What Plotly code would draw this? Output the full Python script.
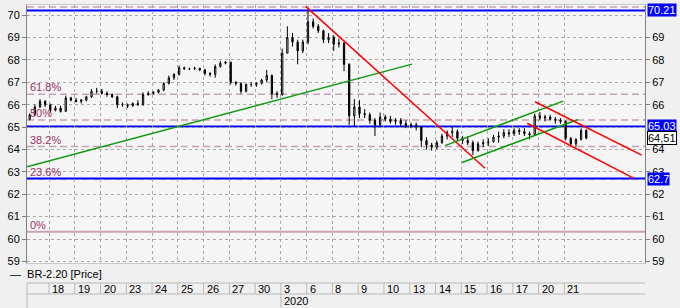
import plotly.graph_objects as go

# ---------------- data ----------------
day_labels = ["18", "19", "20", "23", "24", "25", "26", "27", "30", "3", "6",
              "8", "9", "10", "13", "14", "15", "16", "17", "20", "21"]
year_label = "2020"
year_day_index = 9          # first trading day of 2020 ("3")

opens = [65.35, 65.55, 65.9, 66.15, 66.0, 65.75, 65.85, 65.7, 66.3, 66.2,
         66.15, 66.2, 66.35, 66.6, 66.6, 66.5, 66.45, 66.35, 66.0, 66.0,
         65.95, 66.05, 66.0, 66.45, 66.5, 66.55, 66.65, 66.95, 67.2, 67.35,
         67.65, 67.6, 67.6, 67.62, 67.55, 67.4, 67.35, 67.7, 67.85, 67.9,
         67.0, 66.95, 66.6, 66.9, 66.9, 66.95, 67.1, 67.3, 66.5, 66.45,
         68.3, 69.0, 68.8, 68.4, 68.8, 69.7, 69.5, 69.3, 68.9, 69.0,
         68.7, 68.75, 67.8, 65.5, 65.9, 65.6, 65.55, 65.3, 65.1, 65.45,
         65.35, 65.25, 65.3, 65.15, 65.05, 65.1, 65.0, 64.4, 64.2, 64.1,
         64.3, 64.6, 64.75, 64.8, 64.5, 64.4, 64.3, 63.95, 64.25, 64.3,
         64.35, 64.55, 64.6, 64.75, 64.7, 64.85, 64.8, 64.7, 64.65, 65.5,
         65.4, 65.45, 65.35, 65.3, 65.25, 64.5, 64.25, 64.45, 64.85]
highs = [65.6, 66.0, 66.25, 66.2, 66.05, 65.95, 65.95, 66.4, 66.35, 66.3,
         66.25, 66.4, 66.7, 66.75, 66.7, 66.6, 66.5, 66.4, 66.1, 66.05,
         66.1, 66.2, 66.55, 66.6, 66.6, 66.7, 67.0, 67.3, 67.4, 67.75,
         67.7, 67.65, 67.7, 67.65, 67.6, 67.45, 67.8, 67.95, 67.95, 67.9,
         67.05, 67.0, 66.95, 67.0, 67.0, 67.15, 67.55, 67.35, 66.6, 68.5,
         69.5, 69.2, 68.9, 68.9, 70.21, 69.85, 69.6, 69.35, 69.2, 69.1,
         68.95, 68.8, 67.85, 66.25, 66.2, 65.8, 65.65, 65.4, 65.65, 65.55,
         65.5, 65.4, 65.4, 65.3, 65.2, 65.2, 65.05, 64.55, 64.3, 64.4,
         64.7, 64.85, 65.0, 64.9, 64.6, 64.6, 64.4, 64.35, 64.45, 64.5,
         64.65, 64.8, 64.9, 64.9, 64.95, 64.95, 64.95, 64.8, 65.6, 65.67,
         65.55, 65.55, 65.45, 65.4, 65.3, 64.55, 64.5, 64.95, 64.9]
lows = [65.3, 65.5, 65.85, 65.9, 65.65, 65.7, 65.65, 65.7, 66.15, 66.1,
        66.05, 66.15, 66.3, 66.5, 66.45, 66.35, 66.3, 65.85, 65.9, 65.85,
        65.9, 65.95, 65.95, 66.4, 66.45, 66.5, 66.6, 66.9, 67.1, 67.3,
        67.55, 67.55, 67.55, 67.5, 67.3, 67.25, 67.2, 67.65, 67.8, 66.9,
        66.85, 66.5, 66.55, 66.8, 66.8, 66.9, 67.0, 66.25, 66.3, 66.4,
        68.3, 68.6, 67.8, 68.3, 68.7, 69.4, 69.2, 68.75, 68.75, 68.4,
        68.55, 67.5, 65.1, 65.05, 65.4, 65.4, 65.15, 64.6, 65.05, 65.25,
        65.15, 65.1, 65.0, 64.95, 64.95, 64.85, 64.1, 64.0, 63.95, 64.0,
        64.25, 64.45, 64.55, 64.4, 64.25, 64.2, 63.75, 63.9, 64.1, 64.15,
        64.3, 64.3, 64.5, 64.55, 64.6, 64.65, 64.6, 64.45, 64.6, 65.3,
        65.25, 65.3, 65.15, 65.15, 64.4, 64.15, 64.1, 64.4, 64.45]
closes = [65.55, 65.9, 66.15, 66.0, 65.75, 65.85, 65.7, 66.3, 66.2, 66.15,
          66.2, 66.35, 66.6, 66.6, 66.5, 66.45, 66.35, 66.0, 66.0, 65.95,
          66.05, 66.0, 66.45, 66.5, 66.55, 66.65, 66.95, 67.2, 67.35, 67.65,
          67.6, 67.6, 67.62, 67.55, 67.4, 67.35, 67.7, 67.85, 67.9, 67.0,
          66.95, 66.6, 66.9, 66.9, 66.95, 67.1, 67.3, 66.5, 66.45, 68.3,
          69.0, 68.8, 68.4, 68.8, 69.7, 69.5, 69.3, 68.9, 69.0, 68.7,
          68.75, 67.8, 65.5, 65.9, 65.6, 65.55, 65.3, 65.1, 65.45, 65.35,
          65.25, 65.3, 65.15, 65.05, 65.1, 65.0, 64.4, 64.2, 64.1, 64.3,
          64.6, 64.75, 64.8, 64.5, 64.4, 64.3, 63.95, 64.25, 64.3, 64.35,
          64.55, 64.6, 64.75, 64.7, 64.85, 64.8, 64.7, 64.65, 65.5, 65.4,
          65.45, 65.35, 65.3, 65.25, 64.5, 64.25, 64.45, 64.85, 64.51]

first_bar_day = -0.75   # time of first bar, in trading days from Dec 18
bars_per_day = 5

# trend lines (x in trading days, y in price)
green_long_x = [-0.85, 14.09]
green_long_y = [63.23, 67.81]
red_long_x = [9.97, 16.92]
red_long_y = [70.38, 63.16]
green_up_x = [15.37, 19.95]
green_up_y = [64.17, 66.16]
green_lo_x = [16.03, 20.53]
green_lo_y = [63.42, 65.34]
red_up_x = [18.86, 23.0]
red_up_y = [66.13, 63.75]
red_lo_x = [18.56, 22.70]
red_lo_y = [65.17, 62.71]

blue_levels = [70.21, 65.03, 62.7]
blue_level_labels = ["70.21", "65.03", "62.7"]
last_price = 64.51
last_price_label = "64,51"

fib_names = ["100%", "61.8%", "50%", "38.2%", "23.6%", "0%"]
fib_prices = [70.36, 66.47, 65.31, 64.13, 62.68, 60.33]

y_ticks = list(range(59, 71))
right_hidden_ticks = [65, 70]     # covered by the level boxes on the right
instrument = "BR-2.20 [Price]"

# ---------------- figure ----------------
W, H = 680, 308
ML, MR, MT, MB = 27, 35, 5, 45
PH = H - MT - MB
FONT = "Liberation Sans, Arial, sans-serif"
FIB_LINE = "#C9A0B6"
FIB_TEXT = "#9B3366"
BLUE = "#0000FF"
GRID = "#A8A8A8"


def below(px):
    """paper y coordinate for a point px pixels below the plot area"""
    return -px / PH


bar_x = [first_bar_day + i / bars_per_day for i in range(len(closes))]

fig = go.Figure()

fig.add_trace(go.Candlestick(
    x=bar_x, open=opens, high=highs, low=lows, close=closes,
    increasing=dict(line=dict(color="#000000", width=1), fillcolor="#FFFFFF"),
    decreasing=dict(line=dict(color="#000000", width=1), fillcolor="#000000"),
    whiskerwidth=0, showlegend=False, hoverinfo="skip",
))

for xs, ys, col in [(green_long_x, green_long_y, "#109A10"),
                    (red_long_x, red_long_y, "#FF0000"),
                    (green_up_x, green_up_y, "#109A10"),
                    (green_lo_x, green_lo_y, "#109A10"),
                    (red_up_x, red_up_y, "#FF0000"),
                    (red_lo_x, red_lo_y, "#FF0000")]:
    fig.add_trace(go.Scatter(x=xs, y=ys, mode="lines",
                             line=dict(color=col, width=1.5),
                             showlegend=False, hoverinfo="skip"))

# invisible trace on the right axis so it is drawn
fig.add_trace(go.Scatter(x=[bar_x[0]], y=[closes[0]], yaxis="y2",
                         mode="markers", marker=dict(opacity=0),
                         showlegend=False, hoverinfo="skip"))

shapes = []
annotations = []

# fibonacci levels
for name, p in zip(fib_names, fib_prices):
    shapes.append(dict(type="line", xref="paper", x0=0, x1=1, yref="y", y0=p, y1=p,
                       line=dict(color=FIB_LINE, width=2 if name == "0%" else 1.5,
                                 dash="solid" if name == "0%" else "7px,4px"),
                       layer="below"))
    if name != "100%":
        annotations.append(dict(xref="paper", x=0, xanchor="left", xshift=1,
                                yref="y", y=p, yanchor="bottom", yshift=-1,
                                text=name, showarrow=False,
                                font=dict(family=FONT, size=11, color=FIB_TEXT)))

# blue horizontal levels
for p, lab in zip(blue_levels, blue_level_labels):
    shapes.append(dict(type="line", xref="paper", x0=0, x1=1, yref="y", y0=p, y1=p,
                       line=dict(color=BLUE, width=2), layer="below"))
    annotations.append(dict(xref="paper", x=1, xanchor="left", xshift=2,
                            yref="y", y=p, yanchor="middle",
                            text=lab, showarrow=False, bgcolor=BLUE, borderpad=0,
                            font=dict(family=FONT, size=11, color="#FFFFFF")))

annotations.append(dict(xref="paper", x=1, xanchor="left", xshift=2,
                        yref="y", y=last_price, yanchor="middle",
                        text=last_price_label, showarrow=False, bgcolor="#FFFFFF",
                        bordercolor="#000000", borderwidth=1, borderpad=0,
                        font=dict(family=FONT, size=11, color="#000000")))

# legend row
annotations.append(dict(xref="paper", x=-19 / (W - ML - MR), xanchor="left",
                        yref="paper", y=below(11), yanchor="middle",
                        text="\u2014  " + instrument, showarrow=False,
                        font=dict(family=FONT, size=11, color="#000000")))

# date row
row_top, row_mid, row_bot = below(20), below(31), below(45)
cell = "#B8B8B8"
shapes.append(dict(type="line", xref="paper", x0=0, x1=1, yref="paper",
                   y0=row_top, y1=row_top, line=dict(color=cell, width=1)))
shapes.append(dict(type="line", xref="paper", x0=0, x1=1, yref="paper",
                   y0=row_mid, y1=row_mid, line=dict(color=cell, width=1)))
shapes.append(dict(type="line", xref="paper", x0=0, x1=0, yref="paper",
                   y0=row_top, y1=row_bot, line=dict(color=cell, width=1)))
for i, lab in enumerate(day_labels):
    shapes.append(dict(type="line", xref="x", x0=i, x1=i, yref="paper",
                       y0=row_top, y1=row_mid, line=dict(color=cell, width=1)))
    annotations.append(dict(xref="x", x=i, xanchor="left", xshift=1,
                            yref="paper", y=below(25.5), yanchor="middle",
                            text=lab, showarrow=False,
                            font=dict(family=FONT, size=11, color="#000000")))
shapes.append(dict(type="line", xref="x", x0=year_day_index, x1=year_day_index,
                   yref="paper", y0=row_mid, y1=row_bot, line=dict(color=cell, width=1)))
annotations.append(dict(xref="x", x=year_day_index, xanchor="left", xshift=1,
                        yref="paper", y=below(38), yanchor="middle",
                        text=year_label, showarrow=False,
                        font=dict(family=FONT, size=11, color="#000000")))

y_range = [58.93, 70.45]
x_range = [-0.854, 23.13]

yaxis_common = dict(range=y_range, ticks="outside", ticklen=4,
                    tickcolor="#808080", showline=True, linecolor="#808080",
                    linewidth=1, tickfont=dict(family=FONT, size=11, color="#000000"),
                    fixedrange=True, zeroline=False)

right_ticks = [t for t in y_ticks if t not in right_hidden_ticks]

fig.update_layout(
    width=W, height=H,
    margin=dict(l=ML, r=MR, t=MT, b=MB, pad=0),
    paper_bgcolor="#F0F0F0", plot_bgcolor="#F5F5F5",
    boxgap=0.65,
    xaxis=dict(range=x_range, tickvals=list(range(len(day_labels))),
               showticklabels=False, ticks="", showgrid=True, gridcolor=GRID,
               griddash="dot", gridwidth=1, zeroline=False, showline=True,
               linecolor="#C8C8C8", mirror=True, rangeslider=dict(visible=False),
               fixedrange=True),
    yaxis=dict(side="left", showgrid=True, gridcolor=GRID, griddash="dot",
               gridwidth=1, tickvals=y_ticks, **yaxis_common),
    yaxis2=dict(side="right", overlaying="y", showgrid=False,
                tickvals=right_ticks, **yaxis_common),
    shapes=shapes, annotations=annotations,
    showlegend=False,
)

fig.write_html("out.html")
